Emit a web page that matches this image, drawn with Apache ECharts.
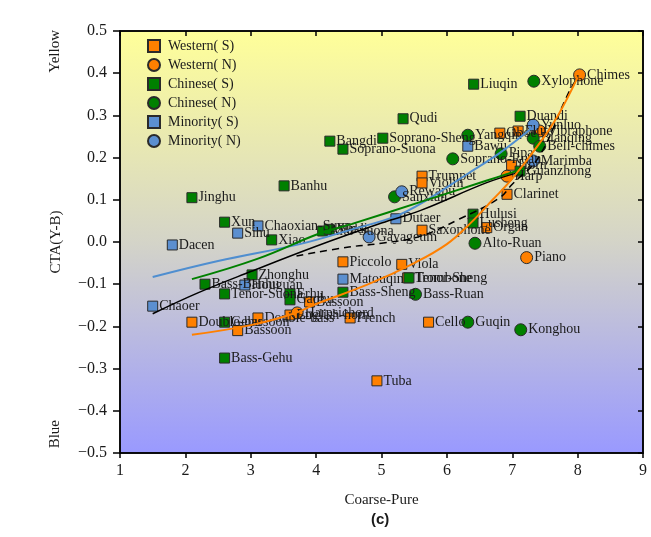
<!DOCTYPE html>
<html>
<head>
<meta charset="utf-8">
<script src="https://cdn.jsdelivr.net/npm/echarts@6/dist/echarts.min.js"></script>
<style>
  html, body { margin: 0; padding: 0; background: #ffffff; }
  #chart { width: 651px; height: 537px; }
</style>
</head>
<body>
<div id="chart"></div>
<script>
// Instrument timbre map: Coarse-Pure (x) vs CTA(Y-B) (y)
// [name, x, y]
const westernS = [
  ['Trumpet', 5.62, 0.156],
  ['Violin', 5.62, 0.140],
  ['Clarinet', 6.92, 0.113],
  ['Saxophone', 5.62, 0.028],
  ['Organ', 6.61, 0.034],
  ['Piccolo', 4.41, -0.047],
  ['Viola', 5.31, -0.053],
  ['Trombone', 5.40, -0.085],
  ['Oboe', 6.81, 0.258],
  ['Flute', 7.09, 0.263],
  ['Horn', 6.99, 0.182],
  ['Bassoon', 3.90, -0.142],
  ['Double-bass', 3.11, -0.180],
  ['Double-bassoon', 2.10, -0.190],
  ['Bassoon', 2.80, -0.210],
  ['English-horn', 3.60, -0.173],
  ['French', 4.52, -0.180],
  ['Cello', 5.72, -0.190],
  ['Tuba', 4.93, -0.329]
];
const westernN = [
  ['Chimes', 8.03, 0.396],
  ['Vibraphone', 7.42, 0.263],
  ['Harp', 6.92, 0.156],
  ['Piano', 7.22, -0.037],
  ['Harpsichord', 3.71, -0.168]
];
const chineseS = [
  ['Liuqin', 6.41, 0.374],
  ['Duandi', 7.12, 0.298],
  ['Qudi', 5.33, 0.292],
  ['Soprano-Sheng', 5.02, 0.246],
  ['Bangdi', 4.21, 0.239],
  ['Soprano-Suona', 4.41, 0.220],
  ['Banhu', 3.51, 0.133],
  ['Jinghu', 2.10, 0.105],
  ['Xun', 2.60, 0.047],
  ['Xiao', 3.32, 0.005],
  ['Alto-Suona', 4.10, 0.026],
  ['Xindi', 4.20, 0.030],
  ['Hulusi', 6.40, 0.066],
  ['Lusheng', 6.40, 0.045],
  ['Guanzhong', 7.12, 0.168],
  ['Zhonghu', 3.02, -0.078],
  ['Bass-Banhu', 2.30, -0.100],
  ['Tenor-Suona', 2.60, -0.123],
  ['Erhu', 3.60, -0.123],
  ['Gaohu', 3.60, -0.137],
  ['Gehu', 2.60, -0.190],
  ['Tenor-Sheng', 5.42, -0.085],
  ['Bass-Sheng', 4.41, -0.119],
  ['Bass-Gehu', 2.60, -0.275]
];
const chineseN = [
  ['Xylophone', 7.33, 0.381],
  ['Yangqin', 6.32, 0.253],
  ['Soprano-Ruan', 6.09, 0.197],
  ['Pipa', 6.83, 0.209],
  ['Bianqing', 7.32, 0.246],
  ['Bell-chimes', 7.42, 0.227],
  ['Sanxian', 5.20, 0.107],
  ['Alto-Ruan', 6.43, -0.003],
  ['Bass-Ruan', 5.52, -0.124],
  ['Guqin', 6.32, -0.190],
  ['Konghou', 7.13, -0.208]
];
const minorityS = [
  ['Bawu', 6.32, 0.227],
  ['Dutaer', 5.22, 0.055],
  ['Chaoxian-Suona', 3.11, 0.038],
  ['Sihu', 2.80, 0.021],
  ['Dacen', 1.80, -0.007],
  ['Matouqin', 4.41, -0.088],
  ['Houguan', 2.91, -0.102],
  ['Chaoer', 1.50, -0.152]
];
const minorityN = [
  ['Yunluo', 7.32, 0.277],
  ['Marimba', 7.32, 0.192],
  ['Rewapu', 5.31, 0.119],
  ['Gayageum', 4.81, 0.012]
];

// Fitted trend curves, read as [x, y] points
const fitWestern = [[2.1,-0.22],[3.0,-0.197],[3.65,-0.17],[4.0,-0.147],[4.8,-0.10],[5.5,-0.05],[6.0,-0.005],[6.35,0.043],[6.7,0.10],[7.0,0.15],[7.4,0.23],[7.7,0.30],[8.0,0.39]];
const fitChinese = [[2.1,-0.088],[3.1,-0.04],[4.05,0.02],[4.55,0.043],[5.6,0.095],[6.6,0.145],[7.1,0.17]];
const fitMinority = [[1.5,-0.083],[2.5,-0.045],[3.75,-0.005],[4.55,0.03],[5.2,0.06],[5.7,0.1],[6.3,0.16],[6.8,0.21],[7.3,0.27]];
const fitAll = [[1.5,-0.17],[2.2,-0.12],[3.0,-0.07],[4.0,-0.01],[5.0,0.045],[5.6,0.075],[6.6,0.14],[7.1,0.165]];
const fitDashed = [[3.7,-0.033],[4.5,-0.012],[5.0,-0.003],[5.6,0.014],[6.2,0.055],[6.8,0.104],[7.0,0.137],[7.4,0.2],[7.85,0.35],[8.0,0.39]];

const legendNames = ['Western( S)', 'Western( N)', 'Chinese( S)', 'Chinese( N)', 'Minority( S)', 'Minority( N)'];
const xTicks = [1, 2, 3, 4, 5, 6, 7, 8, 9];

const ORANGE = '#ff8000';
const GREEN = '#008000';
const BLUE = '#5b8fd0';
const SERIF = '"Liberation Serif", "DejaVu Serif", serif';

function points(arr) {
  return arr.map(d => ({ name: d[0], value: [d[1], d[2]] }));
}

function scatter(name, arr, color, symbol) {
  return {
    name: name,
    type: 'scatter',
    data: points(arr),
    symbol: symbol,
    symbolSize: symbol === 'rect' ? 10 : 12,
    itemStyle: { color: color, borderColor: '#2a2a2a', borderWidth: 1, opacity: 1 },
    label: {
      show: true,
      position: 'right',
      distance: 1,
      formatter: p => p.name,
      color: '#1a1a1a',
      fontFamily: SERIF,
      fontSize: 14
    },
    emphasis: { disabled: true },
    z: 3
  };
}

function fitLine(data, color, width, type) {
  return {
    type: 'line',
    data: data,
    smooth: 0.4,
    symbol: 'none',
    silent: true,
    lineStyle: { color: color, width: width, type: type || 'solid' },
    z: 4
  };
}

const frameLine = { onZero: false, show: true, lineStyle: { color: '#000', width: 1.5 } };

const chart = echarts.init(document.getElementById('chart'));
chart.setOption({
  animation: false,
  backgroundColor: '#ffffff',
  grid: {
    left: 120, right: 8, top: 31, bottom: 84,
    show: true,
    borderColor: '#000',
    borderWidth: 1.5,
    backgroundColor: new echarts.graphic.LinearGradient(0, 0, 0, 1, [
      { offset: 0, color: '#ffff99' },
      { offset: 0.5, color: '#d4d4c8' },
      { offset: 1, color: '#9999ff' }
    ])
  },
  legend: {
    orient: 'vertical',
    left: 142,
    top: 34,
    itemWidth: 12,
    itemHeight: 12,
    itemGap: 5,
    textStyle: { fontFamily: SERIF, fontSize: 14, color: '#1a1a1a', padding: [0, 0, 0, 3] },
    data: [
      { name: legendNames[0], icon: 'rect' },
      { name: legendNames[1], icon: 'circle' },
      { name: legendNames[2], icon: 'rect' },
      { name: legendNames[3], icon: 'circle' },
      { name: legendNames[4], icon: 'rect' },
      { name: legendNames[5], icon: 'circle' }
    ]
  },
  xAxis: [
    {
      type: 'value', min: xTicks[0], max: xTicks[xTicks.length - 1], interval: 1,
      name: 'Coarse-Pure', nameLocation: 'middle', nameGap: 40,
      nameTextStyle: { fontFamily: SERIF, fontSize: 15, color: '#1a1a1a' },
      axisLine: frameLine,
      axisTick: { show: true, inside: false, length: 5, lineStyle: { color: '#000', width: 1.5 } },
      axisLabel: { fontFamily: SERIF, fontSize: 16, color: '#1a1a1a', margin: 10 },
      splitLine: { show: false }
    },
    {
      type: 'value', position: 'top', min: xTicks[0], max: xTicks[xTicks.length - 1], interval: 1,
      axisLine: frameLine,
      axisTick: { show: true, inside: true, length: 5, lineStyle: { color: '#000', width: 1.5 } },
      axisLabel: { show: false },
      splitLine: { show: false }
    }
  ],
  yAxis: [
    {
      type: 'value', min: -0.5, max: 0.5, interval: 0.1,
      name: 'CTA(Y-B)', nameLocation: 'middle', nameGap: 56,
      nameTextStyle: { fontFamily: SERIF, fontSize: 15, color: '#1a1a1a' },
      axisLine: frameLine,
      axisTick: { show: true, inside: false, length: 7, lineStyle: { color: '#000', width: 1.5 } },
      axisLabel: {
        fontFamily: SERIF, fontSize: 16, color: '#1a1a1a', margin: 13,
        formatter: v => (v < 0 ? '\u2212' : '') + Math.abs(v).toFixed(1)
      },
      splitLine: { show: false }
    },
    {
      type: 'value', position: 'right', min: -0.5, max: 0.5, interval: 0.1,
      axisLine: frameLine,
      axisTick: { show: true, inside: true, length: 5, lineStyle: { color: '#000', width: 1.5 } },
      axisLabel: { show: false },
      splitLine: { show: false }
    }
  ],
  graphic: [
    {
      type: 'text', left: 48, top: 30, rotation: Math.PI / 2,
      style: { text: 'Yellow', fontFamily: SERIF, fontSize: 15, fill: '#1a1a1a' }
    },
    {
      type: 'text', left: 48, top: 420, rotation: Math.PI / 2,
      style: { text: 'Blue', fontFamily: SERIF, fontSize: 15, fill: '#1a1a1a' }
    },
    {
      type: 'text', left: 371, top: 512,
      style: { text: '(c)', fontFamily: '"Liberation Sans", Arial, sans-serif', fontWeight: 'bold', fontSize: 15, fill: '#1a1a1a' }
    }
  ],
  series: [
    scatter(legendNames[0], westernS, ORANGE, 'rect'),
    scatter(legendNames[1], westernN, ORANGE, 'circle'),
    scatter(legendNames[2], chineseS, GREEN, 'rect'),
    scatter(legendNames[3], chineseN, GREEN, 'circle'),
    scatter(legendNames[4], minorityS, BLUE, 'rect'),
    scatter(legendNames[5], minorityN, BLUE, 'circle'),
    fitLine(fitMinority, '#4f8ed0', 2),
    fitLine(fitChinese, GREEN, 2),
    fitLine(fitAll, '#000', 1.5),
    fitLine(fitDashed, '#000', 1.5, [7, 5]),
    fitLine(fitWestern, ORANGE, 2)
  ]
});
</script>
</body>
</html>
